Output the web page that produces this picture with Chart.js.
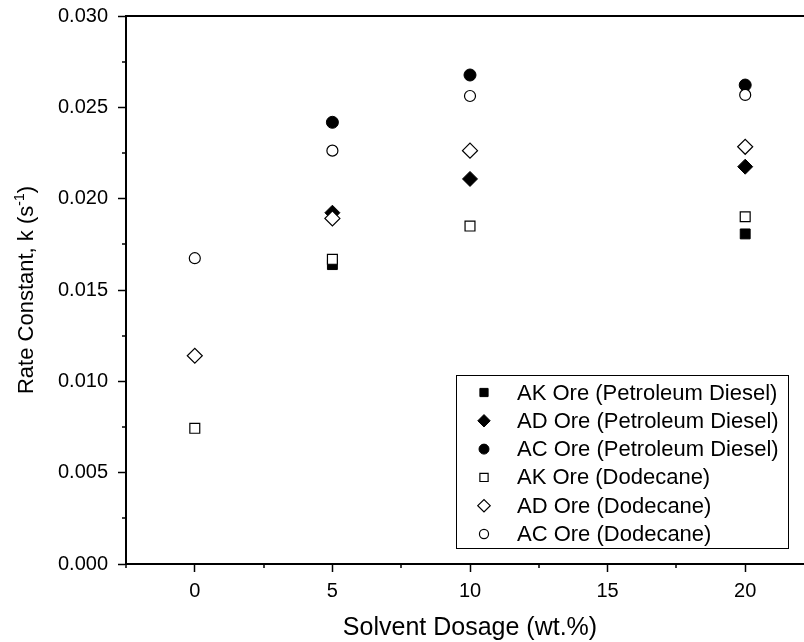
<!DOCTYPE html>
<html>
<head>
<meta charset="utf-8">
<script src="https://cdn.jsdelivr.net/npm/chart.js@4.4.0/dist/chart.umd.min.js"></script>
<style>
  html, body { margin: 0; padding: 0; background: #fff; overflow: hidden; }
  #wrap { position: relative; width: 830px; height: 642px; }
</style>
</head>
<body>
<div id="wrap"><canvas id="chart"></canvas></div>
<script>
// solvent dosage (wt.%) used for each solvent
const dosageDiesel = [5, 10, 20];
const dosageDodecane = [0, 5, 10, 20];

// rate constant k (1/s), null = no point shown
const akDiesel = [0.01639, null, 0.01807];
const adDiesel = [0.01923, 0.02108, 0.02175];
const acDiesel = [0.02418, 0.02677, 0.02622];
const akDodecane = [0.00743, 0.01668, 0.01850, 0.01901];
const adDodecane = [0.01140, 0.01892, 0.02263, 0.02284];
const acDodecane = [0.01674, 0.02263, 0.02562, 0.02568];

const seriesNames = [
  'AK Ore (Petroleum Diesel)',
  'AD Ore (Petroleum Diesel)',
  'AC Ore (Petroleum Diesel)',
  'AK Ore (Dodecane)',
  'AD Ore (Dodecane)',
  'AC Ore (Dodecane)'
];

const xTicks = [0, 5, 10, 15, 20];
const yTicks = [0, 0.005, 0.010, 0.015, 0.020, 0.025, 0.030];

function pts(xs, ys) {
  return xs.map((x, i) => ({ x: x, y: ys[i] })).filter(p => p.y !== null);
}

function makeSet(label, xs, ys, style, radius, filled) {
  return {
    label: label,
    data: pts(xs, ys),
    pointStyle: style,
    pointRadius: radius,
    pointHoverRadius: radius,
    backgroundColor: filled ? '#000' : '#fff',
    borderColor: '#000',
    pointBorderWidth: filled ? 1 : 1.2,
    showLine: false,
    order: filled ? 2 : 1
  };
}

const datasets = [
  makeSet(seriesNames[0], dosageDiesel, akDiesel, 'rect', 7, true),
  makeSet(seriesNames[1], dosageDiesel, adDiesel, 'rectRot', 7.5, true),
  makeSet(seriesNames[2], dosageDiesel, acDiesel, 'circle', 6, true),
  makeSet(seriesNames[3], dosageDodecane, akDodecane, 'rect', 7, false),
  makeSet(seriesNames[4], dosageDodecane, adDodecane, 'rectRot', 7.5, false),
  makeSet(seriesNames[5], dosageDodecane, acDodecane, 'circle', 5.5, false)
];

const FONT = '"Liberation Sans", Arial, sans-serif';

// minor ticks, frame top line, axis titles and the boxed legend
const decorations = {
  id: 'decorations',
  afterDraw(chart) {
    const ctx = chart.ctx;
    const area = chart.chartArea;
    const xs = chart.scales.x, ys = chart.scales.y;
    ctx.save();
    ctx.strokeStyle = '#000';

    // top and right frame lines
    ctx.lineWidth = 2;
    ctx.beginPath();
    ctx.moveTo(area.left - 1, area.top);
    ctx.lineTo(area.right, area.top);
    ctx.lineTo(area.right, area.bottom);
    ctx.stroke();

    // minor ticks
    ctx.lineWidth = 1.5;
    ctx.beginPath();
    for (let v = -2.5; v <= 22.5; v += 5) {
      const px = Math.round(xs.getPixelForValue(v));
      ctx.moveTo(px, area.bottom);
      ctx.lineTo(px, area.bottom + 4);
    }
    for (let v = 0.0025; v < 0.03; v += 0.005) {
      const py = Math.round(ys.getPixelForValue(v));
      ctx.moveTo(area.left, py);
      ctx.lineTo(area.left - 4, py);
    }
    ctx.stroke();

    // x title
    ctx.fillStyle = '#000';
    ctx.font = '25px ' + FONT;
    ctx.textAlign = 'center';
    ctx.textBaseline = 'alphabetic';
    ctx.fillText('Solvent Dosage (wt.%)', (area.left + area.right) / 2, 635);

    // y title with superscript
    const main = 'Rate Constant, k (s';
    const sup = '-1';
    ctx.save();
    ctx.translate(33, (area.top + area.bottom) / 2);
    ctx.rotate(-Math.PI / 2);
    ctx.font = '22px ' + FONT;
    const w1 = ctx.measureText(main).width;
    ctx.font = '14px ' + FONT;
    const w2 = ctx.measureText(sup).width;
    ctx.font = '22px ' + FONT;
    const w3 = ctx.measureText(')').width;
    let tx = -(w1 + w2 + w3) / 2;
    ctx.textAlign = 'left';
    ctx.fillText(main, tx, 0);
    tx += w1;
    ctx.font = '14px ' + FONT;
    ctx.fillText(sup, tx, -9);
    tx += w2;
    ctx.font = '22px ' + FONT;
    ctx.fillText(')', tx, 0);
    ctx.restore();

    // legend box
    ctx.font = '22px ' + FONT;
    const textX = 517;
    let maxW = 0;
    chart.data.datasets.forEach(ds => { maxW = Math.max(maxW, ctx.measureText(ds.label).width); });
    const lx = 456.5, ly = 375.5, lh = 173;
    const lw = Math.round(textX + maxW + 10 - lx);
    ctx.lineWidth = 1;
    ctx.strokeStyle = '#000';
    ctx.strokeRect(lx, ly, lw, lh);
    ctx.textAlign = 'left';
    ctx.textBaseline = 'middle';
    chart.data.datasets.forEach((ds, i) => {
      const cy = 392.5 + i * 28.3;
      ctx.fillStyle = ds.backgroundColor;
      ctx.strokeStyle = ds.borderColor;
      ctx.lineWidth = ds.pointBorderWidth;
      Chart.helpers.drawPoint(ctx, {
        pointStyle: ds.pointStyle,
        radius: ds.pointRadius * 0.83,
        rotation: 0,
        borderWidth: ds.pointBorderWidth
      }, 484, cy);
      ctx.fillStyle = '#000';
      ctx.fillText(ds.label, textX, cy + 1);
    });
    ctx.restore();
  }
};

new Chart(document.getElementById('chart'), {
  type: 'scatter',
  data: { datasets: datasets },
  options: {
    responsive: true,
    maintainAspectRatio: false,
    animation: false,
    layout: { padding: { top: 16, right: 16, left: 0, bottom: 0 } },
    plugins: {
      legend: { display: false },
      tooltip: { enabled: false }
    },
    scales: {
      x: {
        type: 'linear',
        min: -2.5,
        max: 22.5,
        afterBuildTicks: s => { s.ticks = xTicks.map(v => ({ value: v })); },
        afterFit: s => { s.height = 78; s.paddingLeft = 0; s.paddingRight = 0; },
        border: { display: true, color: '#000', width: 2 },
        grid: { drawOnChartArea: false, drawTicks: true, tickLength: 8, tickColor: '#000', tickWidth: 1.5 },
        ticks: { color: '#000', font: { family: FONT, size: 20 }, padding: 7, maxRotation: 0 }
      },
      y: {
        type: 'linear',
        min: 0,
        max: 0.03,
        afterBuildTicks: s => { s.ticks = yTicks.map(v => ({ value: v })); },
        afterFit: s => { s.width = 126; s.paddingTop = 0; s.paddingBottom = 0; },
        border: { display: true, color: '#000', width: 2 },
        grid: { drawOnChartArea: false, drawTicks: true, tickLength: 8, tickColor: '#000', tickWidth: 1.5 },
        ticks: {
          color: '#000',
          font: { family: FONT, size: 20 },
          padding: 10,
          callback: v => v.toFixed(3)
        }
      }
    }
  },
  plugins: [decorations]
});
</script>
</body>
</html>
